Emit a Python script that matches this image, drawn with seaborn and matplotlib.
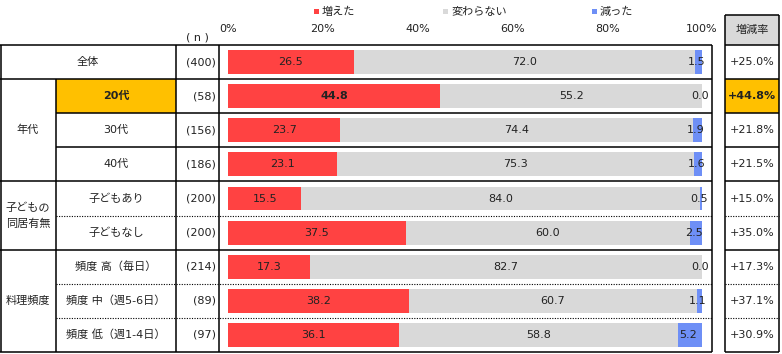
import matplotlib
matplotlib.use("Agg")
import matplotlib.pyplot as plt
import seaborn as sns
import pandas as pd
from matplotlib.patches import Rectangle

# ---------------- data ----------------
groups = ["", "年代", "年代", "年代", "子どもの\n同居有無", "子どもの\n同居有無",
          "料理頻度", "料理頻度", "料理頻度"]
labels = ["全体", "20代", "30代", "40代", "子どもあり", "子どもなし",
          "頻度 高（毎日）", "頻度 中（週5-6日）", "頻度 低（週1-4日）"]
n_counts = [400, 58, 156, 186, 200, 200, 214, 89, 97]
increased = [26.5, 44.8, 23.7, 23.1, 15.5, 37.5, 17.3, 38.2, 36.1]
unchanged = [72.0, 55.2, 74.4, 75.3, 84.0, 60.0, 82.7, 60.7, 58.8]
decreased = [1.5, 0.0, 1.9, 1.6, 0.5, 2.5, 0.0, 1.1, 5.2]
series_names = ["増えた", "変わらない", "減った"]
xticks = [0, 20, 40, 60, 80, 100]
highlight_label = "20代"

# ---------------- style ----------------
sns.set_theme(style="white")
plt.rcParams["font.family"] = ["DejaVu Sans", "Noto Sans CJK JP"]
RED, GRAY, BLUE = "#FF4242", "#D9D9D9", "#6E8FF6"
GOLD = "#FFC000"
TXT = "#222222"
FS = 8

W, H = 782, 354
fig = plt.figure(figsize=(W / 100, H / 100), dpi=100)

TOP, BOT = 45, 352
nrows = len(labels)
rh = (BOT - TOP) / nrows
X0, X100 = 228, 702

# overlay axes in pixel coordinates for the table
ov = fig.add_axes([0, 0, 1, 1])
ov.set_xlim(0, W)
ov.set_ylim(H, 0)
ov.axis("off")
ov.set_zorder(0)

# bar axes
ax = fig.add_axes([X0 / W, (H - BOT) / H, (X100 - X0) / W, (BOT - TOP) / H])
ax.set_zorder(1)
ax.patch.set_alpha(0)

df = pd.DataFrame({"label": labels, "inc": increased, "unc": unchanged, "dec": decreased})
df["c2"] = df["inc"] + df["unc"]
df["c3"] = df["c2"] + df["dec"]

common = dict(y="label", orient="h", order=labels, width=0.7, saturation=1,
              errorbar=None, linewidth=0, ax=ax)
sns.barplot(data=df, x="c3", color=BLUE, **common)
sns.barplot(data=df, x="c2", color=GRAY, **common)
sns.barplot(data=df, x="inc", color=RED, **common)

ax.set_xlim(0, 100)
ax.set_ylim(nrows - 0.5, -0.5)
ax.xaxis.tick_top()
ax.set_xticks(xticks)
ax.set_xticklabels([f"{t}%" for t in xticks], fontsize=FS, color=TXT)
ax.tick_params(axis="x", length=0, pad=8)
ax.set_yticks([])
ax.set_xlabel("")
ax.set_ylabel("")
for s in ax.spines.values():
    s.set_visible(False)

# value labels
for i, row in df.iterrows():
    bold = "bold" if row["label"] == highlight_label else "normal"
    ax.text(row["inc"] / 2, i, f"{row['inc']:.1f}", ha="center", va="center",
            fontsize=FS, color=TXT, fontweight=bold)
    ax.text(row["inc"] + row["unc"] / 2, i, f"{row['unc']:.1f}", ha="center",
            va="center", fontsize=FS, color=TXT)
    ax.text(row["c2"] + row["dec"] / 2 - 0.4, i, f"{row['dec']:.1f}", ha="center",
            va="center", fontsize=FS, color=TXT)

# ---------------- table ----------------
XG, XL, XN, XR = 56, 176, 219, 712
RX0, RX1 = 725, 779
LW = 1.1
dot = dict(color="black", lw=0.8, linestyle=(0, (1, 1.3)))
sol = dict(color="black", lw=LW, solid_capstyle="butt")

def ycen(i):
    return TOP + rh * (i + 0.5)

# highlight cells
hi = labels.index(highlight_label)
ov.add_patch(Rectangle((XG, TOP + rh * hi), XL - XG, rh, color=GOLD, lw=0))
ov.add_patch(Rectangle((RX0, TOP + rh * hi), RX1 - RX0, rh, color=GOLD, lw=0))
# rate header
ov.add_patch(Rectangle((RX0, 15), RX1 - RX0, TOP - 15, color=GRAY, lw=0))

# horizontal lines
for k in range(nrows + 1):
    y = TOP + rh * k
    if k == 0 or k == nrows or groups[k] != groups[k - 1] or groups[k] == "":
        ov.plot([0, XR], [y, y], **sol)
        ov.plot([RX0, RX1], [y, y], **sol)
    elif groups[k] == "年代":
        ov.plot([XG, XR], [y, y], **sol)
        ov.plot([RX0, RX1], [y, y], **sol)
    else:
        ov.plot([XG, XR], [y, y], **dot)
        ov.plot([RX0, RX1], [y, y], **dot)
ov.plot([RX0, RX1], [15, 15], **sol)

# vertical lines
for x in [0.6, XL, XN, XR]:
    ov.plot([x, x], [TOP, BOT], **sol)
ov.plot([XG, XG], [TOP + rh, BOT], **sol)
ov.plot([RX0, RX0], [15, BOT], **sol)
ov.plot([RX1, RX1], [15, BOT], **sol)

# labels
for i, lab in enumerate(labels):
    bold = "bold" if lab == highlight_label else "normal"
    if groups[i] == "":
        ov.text((0 + XL) / 2, ycen(i), lab, ha="center", va="center", fontsize=FS,
                color=TXT)
    else:
        ov.text((XG + XL) / 2, ycen(i), lab, ha="center", va="center", fontsize=FS,
                color=TXT, fontweight=bold)
    ov.text(XN - 3, ycen(i), f"({n_counts[i]})", ha="right", va="center",
            fontsize=FS, color=TXT)
    rate = increased[i] - decreased[i]
    ov.text((RX0 + RX1) / 2, ycen(i), f"+{rate:.1f}%", ha="center", va="center",
            fontsize=FS, color=TXT, fontweight=bold)

# group labels
start = 0
for i in range(1, nrows + 1):
    if i == nrows or groups[i] != groups[start]:
        if groups[start]:
            yc = (TOP + rh * start + TOP + rh * i) / 2
            ov.text(XG / 2, yc, groups[start], ha="center", va="center",
                    fontsize=FS, color=TXT, linespacing=1.75)
        start = i

ov.text(197, 38, "( n )", ha="center", va="center", fontsize=FS, color=TXT)
ov.text((RX0 + RX1) / 2, 30, "増減率", ha="center", va="center", fontsize=FS,
        color=TXT)

# legend
for name, col, xs in zip(series_names, [RED, GRAY, BLUE], [314, 443, 592]):
    ov.add_patch(Rectangle((xs, 9), 5, 5, color=col, lw=0))
    ov.text(xs + 8, 12, name, ha="left", va="center", fontsize=FS, color=TXT)

fig.savefig("out.png", dpi=100)
